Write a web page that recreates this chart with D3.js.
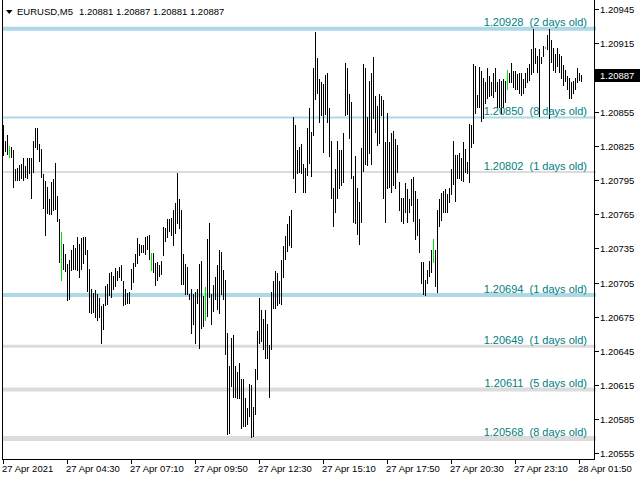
<!DOCTYPE html>
<html><head><meta charset="utf-8">
<script src="https://cdn.jsdelivr.net/npm/d3@7"></script>
<style>
html,body{margin:0;padding:0;background:#fff;}
svg{display:block;font-family:"Liberation Sans",Arial,sans-serif;}
text{white-space:pre;}
</style></head>
<body>
<svg id="chart" width="640" height="480"></svg>
<script>
// ---- data ----
const symbol = "EURUSD,M5";
const headerOHLC = [1.20881, 1.20887, 1.20881, 1.20887];
const lastPrice = 1.20887;

const highs = [
1.20843,1.20829,1.20835,1.20825,1.20824,1.20821,1.20805,1.20806,1.20808,1.20809,
1.20814,1.20807,1.20814,1.20814,1.20814,1.20829,1.20841,1.20841,1.20827,1.20822,
1.20800,1.20794,1.20789,1.20778,1.20793,1.20796,1.20810,1.20781,1.20761,1.20749,
1.20739,1.20730,1.20721,1.20725,1.20734,1.20738,1.20735,1.20745,1.20739,1.20744,
1.20745,1.20745,1.20734,1.20717,1.20699,1.20696,1.20698,1.20695,1.20691,1.20684,
1.20686,1.20702,1.20704,1.20713,1.20714,1.20711,1.20718,1.20715,1.20719,1.20720,
1.20706,1.20699,1.20696,1.20697,1.20717,1.20722,1.20730,1.20744,1.20739,1.20738,
1.20738,1.20745,1.20746,1.20747,1.20731,1.20731,1.20722,1.20723,1.20720,1.20724,
1.20754,1.20753,1.20761,1.20761,1.20762,1.20769,1.20775,1.20801,1.20778,1.20769,
1.20730,1.20721,1.20719,1.20695,1.20699,1.20695,1.20697,1.20699,1.20721,1.20724,
1.20693,1.20701,1.20743,1.20757,1.20695,1.20703,1.20710,1.20720,1.20734,1.20732,
1.20716,1.20707,1.20661,1.20632,1.20656,1.20659,1.20632,1.20626,1.20634,1.20620,
1.20620,1.20604,1.20595,1.20616,1.20615,1.20596,1.20629,1.20662,1.20691,1.20681,
1.20673,1.20681,1.20669,1.20650,1.20697,1.20706,1.20715,1.20713,1.20706,1.20725,
1.20737,1.20746,1.20756,1.20763,1.20769,1.20850,1.20843,1.20821,1.20824,1.20827,
1.20809,1.20806,1.20841,1.20858,1.20837,1.20893,1.20925,1.20902,1.20884,1.20881,
1.20879,1.20887,1.20889,1.20858,1.20829,1.20788,1.20805,1.20829,1.20821,1.20821,
1.20836,1.20898,1.20893,1.20871,1.20864,1.20799,1.20816,1.20788,1.20776,1.20823,
1.20897,1.20893,1.20850,1.20882,1.20889,1.20903,1.20869,1.20860,1.20871,1.20869,
1.20865,1.20828,1.20854,1.20828,1.20836,1.20838,1.20831,1.20826,1.20793,1.20779,
1.20779,1.20792,1.20787,1.20778,1.20796,1.20798,1.20785,1.20778,1.20761,1.20723,
1.20723,1.20707,1.20716,1.20724,1.20734,1.20743,1.20734,1.20769,1.20778,1.20784,
1.20785,1.20787,1.20783,1.20788,1.20805,1.20829,1.20817,1.20817,1.20819,1.20814,
1.20828,1.20822,1.20811,1.20844,1.20843,1.20897,1.20895,1.20870,1.20894,1.20891,
1.20885,1.20881,1.20893,1.20886,1.20881,1.20889,1.20893,1.20881,1.20884,1.20882,
1.20884,1.20882,1.20892,1.20889,1.20898,1.20891,1.20891,1.20888,1.20889,1.20889,
1.20884,1.20889,1.20893,1.20897,1.20910,1.20928,1.20911,1.20904,1.20910,1.20903,
1.20913,1.20912,1.20922,1.20928,1.20918,1.20911,1.20906,1.20911,1.20906,1.20904,
1.20896,1.20892,1.20886,1.20885,1.20881,1.20882,1.20885,1.20893,1.20889,1.20887
];
const lows = [
1.20816,1.20820,1.20817,1.20814,1.20814,1.20788,1.20794,1.20794,1.20794,1.20796,
1.20794,1.20797,1.20796,1.20800,1.20778,1.20801,1.20823,1.20821,1.20811,1.20797,
1.20770,1.20746,1.20765,1.20764,1.20764,1.20768,1.20769,1.20758,1.20722,1.20706,
1.20716,1.20714,1.20689,1.20690,1.20715,1.20716,1.20716,1.20715,1.20709,1.20716,
1.20721,1.20729,1.20697,1.20678,1.20677,1.20678,1.20674,1.20671,1.20674,1.20651,
1.20663,1.20684,1.20685,1.20693,1.20691,1.20698,1.20701,1.20706,1.20709,1.20706,
1.20684,1.20685,1.20686,1.20686,1.20698,1.20705,1.20719,1.20721,1.20728,1.20731,
1.20731,1.20729,1.20734,1.20725,1.20715,1.20713,1.20702,1.20706,1.20710,1.20712,
1.20728,1.20741,1.20744,1.20749,1.20746,1.20737,1.20748,1.20756,1.20752,1.20703,
1.20703,1.20694,1.20694,1.20690,1.20660,1.20668,1.20651,1.20686,1.20647,1.20664,
1.20666,1.20671,1.20675,1.20691,1.20668,1.20679,1.20690,1.20681,1.20677,1.20694,
1.20690,1.20641,1.20571,1.20572,1.20613,1.20604,1.20604,1.20603,1.20603,1.20576,
1.20578,1.20578,1.20580,1.20587,1.20568,1.20569,1.20589,1.20619,1.20651,1.20653,
1.20646,1.20638,1.20638,1.20604,1.20646,1.20682,1.20682,1.20684,1.20686,1.20685,
1.20709,1.20725,1.20732,1.20737,1.20735,1.20796,1.20784,1.20800,1.20801,1.20800,
1.20784,1.20784,1.20799,1.20809,1.20798,1.20834,1.20865,1.20871,1.20845,1.20851,
1.20819,1.20852,1.20845,1.20815,1.20778,1.20754,1.20766,1.20778,1.20787,1.20790,
1.20792,1.20851,1.20852,1.20831,1.20796,1.20757,1.20756,1.20747,1.20738,1.20757,
1.20802,1.20808,1.20807,1.20818,1.20808,1.20849,1.20836,1.20825,1.20827,1.20851,
1.20778,1.20757,1.20787,1.20788,1.20784,1.20790,1.20787,1.20801,1.20768,1.20758,
1.20756,1.20766,1.20757,1.20766,1.20772,1.20758,1.20742,1.20746,1.20731,1.20704,
1.20694,1.20693,1.20704,1.20710,1.20713,1.20722,1.20701,1.20696,1.20754,1.20759,
1.20766,1.20766,1.20766,1.20775,1.20782,1.20791,1.20776,1.20796,1.20796,1.20794,
1.20793,1.20801,1.20800,1.20792,1.20823,1.20827,1.20853,1.20858,1.20858,1.20846,
1.20849,1.20862,1.20866,1.20868,1.20869,1.20867,1.20872,1.20858,1.20858,1.20853,
1.20858,1.20863,1.20874,1.20880,1.20880,1.20876,1.20874,1.20874,1.20871,1.20869,
1.20871,1.20876,1.20880,1.20882,1.20887,1.20889,1.20897,1.20889,1.20850,1.20897,
1.20903,1.20910,1.20909,1.20849,1.20898,1.20891,1.20889,1.20894,1.20889,1.20884,
1.20878,1.20881,1.20874,1.20866,1.20866,1.20871,1.20874,1.20880,1.20882,1.20881
];
// bars drawn in the "doji" colour
const dojiBars = [3, 29, 74, 101, 215, 252, 271];

const priceTicks = [1.20945,1.20915,1.20885,1.20855,1.20825,1.20795,1.20765,1.20735,1.20705,1.20675,1.20645,1.20615,1.20585,1.20555];
const timeLabels = ["27 Apr 2021","27 Apr 04:30","27 Apr 07:10","27 Apr 09:50","27 Apr 12:30","27 Apr 15:10","27 Apr 17:50","27 Apr 20:30","27 Apr 23:10","28 Apr 01:50"];
const timeLabelBars = [0,32,64,96,128,160,192,224,256,288];

const levelPrices = [1.20928, 1.20850, 1.20802, 1.20694, 1.20649, 1.20611, 1.20568];
const levelAges   = [2, 8, 1, 1, 1, 5, 8];
// styles (kept apart from data)
const levelColors = ["#add8e6","#add8e6","#dcdcdc","#add8e6","#dcdcdc","#dcdcdc","#dcdcdc"];
const levelWidths = [4, 2, 2, 4, 3, 4, 5];

// ---- drawing ----
const svg = d3.select("#chart");
const plotRight = 595, plotBottom = 459.5;
const x = d3.scaleLinear().domain([0, highs.length - 1]).range([3, 3 + 2 * (highs.length - 1)]);
const y = d3.scaleLinear().domain([1.20555, 1.20945]).range([453.3, 9.3]);

// level lines
const lv = svg.append("g");
levelPrices.forEach((p, i) => {
  lv.append("line").attr("x1", 2).attr("x2", plotRight + 1)
    .attr("y1", y(p)).attr("y2", y(p))
    .attr("stroke", levelColors[i]).attr("stroke-width", levelWidths[i]);
});

// bars
const bars = svg.append("g").attr("shape-rendering", "crispEdges");
bars.selectAll("rect").data(highs.map((h, i) => ({h, l: lows[i], i})))
  .join("rect")
  .attr("x", d => Math.round(x(d.i)))
  .attr("width", 1)
  .attr("y", d => Math.round(y(d.h)))
  .attr("height", d => Math.max(1, Math.round(y(d.l)) - Math.round(y(d.h))))
  .attr("fill", d => dojiBars.includes(d.i) ? "#00e600" : "#000");

// level labels
levelPrices.forEach((p, i) => {
  svg.append("text").attr("x", 587).attr("y", y(p) - 2.5)
    .attr("text-anchor", "end").attr("font-size", 11).attr("fill", "#008080")
    .text(d3.format(".5f")(p) + "  (" + levelAges[i] + " days old)");
});

// frame
const frame = svg.append("g").attr("shape-rendering", "crispEdges").attr("stroke", "#000");
frame.append("line").attr("x1", 2.5).attr("x2", 2.5).attr("y1", 0).attr("y2", plotBottom);
frame.append("line").attr("x1", plotRight - 0.5).attr("x2", plotRight - 0.5).attr("y1", 0).attr("y2", plotBottom);
frame.append("line").attr("x1", 2).attr("x2", plotRight).attr("y1", plotBottom).attr("y2", plotBottom);

// right price axis (labels covered by the current-price tag are not drawn, as in the terminal)
const ly = y(lastPrice);
const ra = svg.append("g");
priceTicks.forEach(p => {
  const yy = Math.round(y(p)) + 0.5;
  ra.append("line").attr("x1", plotRight).attr("x2", plotRight + 4).attr("y1", yy).attr("y2", yy)
    .attr("stroke", "#000").attr("shape-rendering", "crispEdges");
  if (Math.abs(yy - ly) > 11) {
    ra.append("text").attr("x", 600).attr("y", yy).attr("dy", "0.35em")
      .attr("font-size", 9.5).attr("fill", "#000").text(d3.format(".5f")(p));
  }
});
// current price tag
svg.append("rect").attr("x", plotRight).attr("y", Math.round(ly - 6.8)).attr("width", 640 - plotRight).attr("height", 13).attr("fill", "#000");
svg.append("text").attr("x", 600).attr("y", ly).attr("dy", "0.35em").attr("font-size", 9.5).attr("fill", "#fff")
  .text(d3.format(".5f")(lastPrice));

// bottom time axis
const ba = svg.append("g");
timeLabelBars.forEach((b, k) => {
  const xx = Math.round(x(b)) + 0.5;
  ba.append("line").attr("x1", xx).attr("x2", xx).attr("y1", plotBottom).attr("y2", plotBottom + 4)
    .attr("stroke", "#000").attr("shape-rendering", "crispEdges");
  ba.append("text").attr("x", xx - 1.5).attr("y", 472).attr("font-size", 9.5).attr("fill", "#000").text(timeLabels[k]);
});

// header
svg.append("path").attr("d", "M6,10 L12.5,10 L9.25,14 Z").attr("fill", "#000");
svg.append("text").attr("x", 17).attr("y", 14.5).attr("font-size", 9.5).attr("fill", "#000").text(symbol);
svg.append("text").attr("x", 79).attr("y", 14.5).attr("font-size", 9.5).attr("fill", "#000")
  .text(headerOHLC.map(d3.format(".5f")).join(" "));
</script>
</body></html>
